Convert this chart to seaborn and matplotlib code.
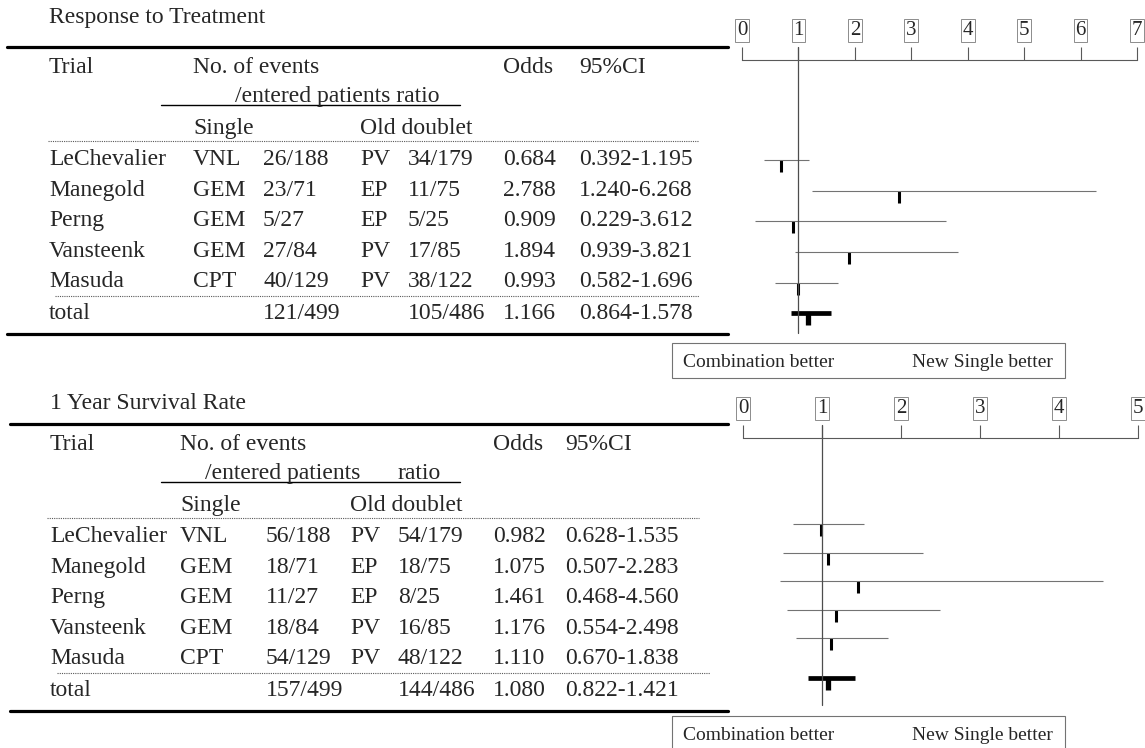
import numpy as np
import matplotlib.pyplot as plt
from matplotlib.path import Path
from matplotlib.patches import Rectangle
import seaborn as sns

# Trials (same in both panels)
trials = ["LeChevalier", "Manegold", "Perng", "Vansteenk", "Masuda"]
single_drugs = ["VNL", "GEM", "GEM", "GEM", "CPT"]
doublet_drugs = ["PV", "EP", "EP", "PV", "PV"]

# Response to Treatment
resp_single = ["26/188", "23/71", "5/27", "27/84", "40/129"]
resp_doublet = ["34/179", "11/75", "5/25", "17/85", "38/122"]
resp_or = [0.684, 2.788, 0.909, 1.894, 0.993]
resp_lo = [0.392, 1.240, 0.229, 0.939, 0.582]
resp_hi = [1.195, 6.268, 3.612, 3.821, 1.696]
resp_total = ["121/499", "105/486"]
resp_total_or = 1.166
resp_total_ci = [0.864, 1.578]
resp_ticks = [0, 1, 2, 3, 4, 5, 6, 7]

# 1 Year Survival Rate
surv_single = ["56/188", "18/71", "11/27", "18/84", "54/129"]
surv_doublet = ["54/179", "18/75", "8/25", "16/85", "48/122"]
surv_or = [0.982, 1.075, 1.461, 1.176, 1.110]
surv_lo = [0.628, 0.507, 0.468, 0.554, 0.670]
surv_hi = [1.535, 2.283, 4.560, 2.498, 1.838]
surv_total = ["157/499", "144/486"]
surv_total_or = 1.080
surv_total_ci = [0.822, 1.421]
surv_ticks = [0, 1, 2, 3, 4, 5]

sns.set_theme(style="white")
plt.rcParams['font.family'] = ['Liberation Serif', 'DejaVu Serif']

W, H = 1145, 748
FS = 17
fig = plt.figure(figsize=(W / 100, H / 100), dpi=100)

# full-figure axes in pixel units for the tables
tab = fig.add_axes([0, 0, 1, 1])
tab.set_xlim(0, W)
tab.set_ylim(H, 0)
tab.axis('off')

# marker: short vertical stroke hanging below the point
drop = Path([(0, 0), (0, -1)], [Path.MOVETO, Path.LINETO])


def px_axes(x0, x1, y0, y1):
    return fig.add_axes([x0 / W, 1 - y1 / H, (x1 - x0) / W, (y1 - y0) / H])


def draw_table(dy, title, title_y, cols, sub, dots, thick,
               single, doublet, ors, los, his, total, total_or, total_ci):
    c_name, c_drug, c_cnt, c_drug2, c_cnt2, c_or, c_ci = cols
    tab.text(c_name, title_y, title, fontsize=FS, va='baseline')
    tab.plot(thick, [47 + dy] * 2, color='black', lw=2.3)
    tab.plot(thick, [334 + dy] * 2, color='black', lw=2.3)
    # header
    tab.text(c_name, 73 + dy, "Trial", fontsize=FS, va='baseline')
    tab.text(c_drug, 73 + dy, "No. of events", fontsize=FS, va='baseline')
    tab.text(c_or, 73 + dy, "Odds", fontsize=FS, va='baseline')
    tab.text(c_ci, 73 + dy, "95%CI", fontsize=FS, va='baseline')
    for sx, s in sub:
        tab.text(sx, 102 + dy, s, fontsize=FS, va='baseline')
    tab.plot([161, 460], [105 + dy] * 2, color='black', lw=1.0)
    tab.text(c_drug, 134 + dy, "Single", fontsize=FS, va='baseline')
    tab.text(c_drug2, 134 + dy, "Old doublet", fontsize=FS, va='baseline')
    tab.plot(dots[0], [141 + dy] * 2, color='0.35', lw=0.8, ls=(0, (1, 1)))
    tab.plot(dots[1], [296 + dy] * 2, color='0.35', lw=0.8, ls=(0, (1, 1)))
    # trial rows
    for i, name in enumerate(trials):
        y = 165 + 30.6 * i + dy
        tab.text(c_name, y, name, fontsize=FS, va='baseline')
        tab.text(c_drug, y, single_drugs[i], fontsize=FS, va='baseline')
        tab.text(c_cnt, y, single[i], fontsize=FS, va='baseline')
        tab.text(c_drug2, y, doublet_drugs[i], fontsize=FS, va='baseline')
        tab.text(c_cnt2, y, doublet[i], fontsize=FS, va='baseline')
        tab.text(c_or, y, f"{ors[i]:.3f}", fontsize=FS, va='baseline')
        tab.text(c_ci, y, f"{los[i]:.3f}-{his[i]:.3f}", fontsize=FS, va='baseline')
    y = 319 + dy
    tab.text(c_name, y, "total", fontsize=FS, va='baseline')
    tab.text(c_cnt, y, total[0], fontsize=FS, va='baseline')
    tab.text(c_cnt2, y, total[1], fontsize=FS, va='baseline')
    tab.text(c_or, y, f"{total_or:.3f}", fontsize=FS, va='baseline')
    tab.text(c_ci, y, f"{total_ci[0]:.3f}-{total_ci[1]:.3f}", fontsize=FS, va='baseline')


def draw_forest(ax, ors, los, his, total_or, total_ci, ticks, total_pos, ylim, tick_len):
    rows = np.arange(len(ors))
    ax.hlines(rows, los, his, color='0.45', lw=0.8)
    ax.hlines(total_pos, total_ci[0], total_ci[1], color='black', lw=3.4)
    sns.scatterplot(x=ors, y=rows, marker=drop, s=300, color='black',
                    edgecolor='black', linewidth=2.2, legend=False, ax=ax)
    sns.scatterplot(x=[total_or], y=[total_pos], marker=drop, s=300, color='black',
                    edgecolor='black', linewidth=3.8, legend=False, ax=ax)
    ax.set_xlim(ticks[0], ticks[-1])
    ax.set_ylim(*ylim)
    ax.axvline(1, ymin=0, ymax=1 + tick_len, clip_on=False, color='0.3', lw=0.9)
    ax.set_facecolor('none')
    ax.set_xlabel("")
    ax.set_ylabel("")
    ax.set_yticks([])
    ax.xaxis.tick_top()
    ax.set_xticks(ticks)
    ax.set_xticklabels([str(t) for t in ticks])
    ax.tick_params(axis='x', top=True, bottom=False, direction='out', length=9.4,
                   width=0.8, color='0.35', pad=5, labelsize=15)
    for side in ['left', 'right', 'bottom']:
        ax.spines[side].set_visible(False)
    ax.spines['top'].set_color('0.35')
    ax.spines['top'].set_linewidth(0.8)
    for lab in ax.get_xticklabels():
        lab.set_bbox(dict(boxstyle='square,pad=0.08', fc='white', ec='0.55', lw=0.7))


def draw_legend(y_top):
    tab.add_patch(Rectangle((672, y_top), 393, 35, fill=False, ec='0.45', lw=0.8))
    tab.text(683, y_top + 24, "Combination better", fontsize=14, va='baseline')
    tab.text(1053, y_top + 24, "New Single better", fontsize=14, va='baseline', ha='right')


# Response to Treatment
draw_table(0, "Response to Treatment", 23,
           [49, 193, 263, 360, 408, 503, 579],
           [(235, "/entered patients ratio")],
           [(48, 699), (55, 699)], [7, 728],
           resp_single, resp_doublet, resp_or, resp_lo, resp_hi,
           resp_total, resp_total_or, resp_total_ci)
ax1 = px_axes(742, 1137, 60, 333)
draw_forest(ax1, resp_or, resp_lo, resp_hi, resp_total_or, resp_total_ci,
            resp_ticks, 5, (5.65, -3.27), 13 / 273)
draw_legend(343)

# 1 Year Survival Rate
draw_table(377, "1 Year Survival Rate", 409,
           [50, 180, 266, 350, 398, 493, 565],
           [(205, "/entered patients"), (398, "ratio")],
           [(47, 699), (57, 710)], [10, 728],
           surv_single, surv_doublet, surv_or, surv_lo, surv_hi,
           surv_total, surv_total_or, surv_total_ci)
ax2 = px_axes(743, 1138, 438, 705)
draw_forest(ax2, surv_or, surv_lo, surv_hi, surv_total_or, surv_total_ci,
            surv_ticks, 5.4, (6.35, -3.02), 13 / 267)
draw_legend(716)

fig.savefig("out.png", dpi=100)
